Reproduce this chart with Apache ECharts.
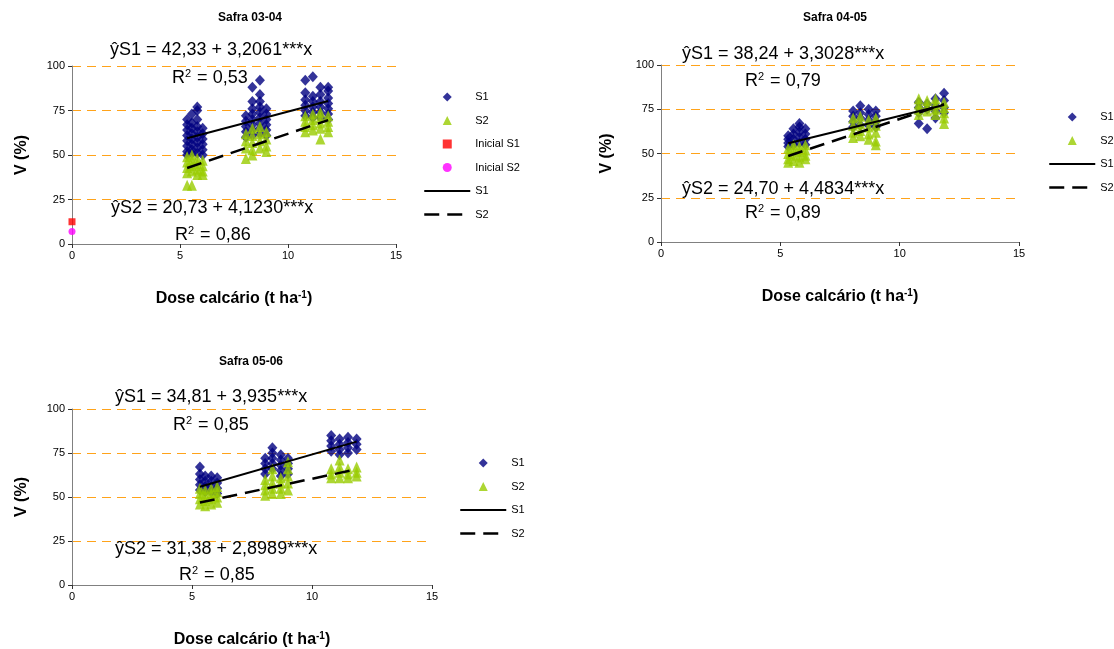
<!DOCTYPE html>
<html>
<head>
<meta charset="utf-8">
<script src="https://cdn.jsdelivr.net/npm/echarts@6/dist/echarts.min.js"></script>
<style>
  html, body { margin: 0; padding: 0; background: #fff; }
  #chart { width: 1114px; height: 649px; }
</style>
</head>
<body>
<div id="chart"></div>
<script>
// Limestone dose (t/ha) of each sampled column of points
const doses = [5.33, 5.55, 5.8, 6.05, 8.05, 8.35, 8.7, 9.0, 10.8, 11.15, 11.5, 11.86];

// Base saturation V (%) per dose column — Safra 03-04
const s1_0304 = [
  [70, 67, 64, 61, 58, 55, 52, 50],
  [73, 68, 65, 62, 59, 56, 53, 51],
  [77, 75, 70, 66, 63, 60, 57, 54, 51],
  [65, 62, 59, 56, 53, 50],
  [72, 69, 66, 63, 60],
  [88, 80, 76, 73, 70, 67, 64, 61],
  [92, 84, 80, 77, 74, 71, 68, 65, 62],
  [76, 73, 70, 67, 64, 61],
  [92, 85, 81, 78, 75, 72],
  [94, 83, 80, 77, 74, 71],
  [88, 84, 80, 77, 74, 71],
  [88, 86, 82, 79, 76, 73, 70]
];
const s2_0304 = [
  [49, 46, 43, 40, 33],
  [50, 47, 44, 41, 33],
  [48, 45, 42, 39],
  [47, 44, 41, 39],
  [62, 58, 54, 48],
  [65, 61, 57, 53, 50],
  [66, 62, 58, 54],
  [63, 59, 55, 52],
  [72, 69, 66, 63],
  [73, 70, 67, 64],
  [74, 71, 68, 65, 59],
  [72, 69, 66, 63]
];
// Initial V (%) before liming (dose 0): S1, S2
const inicial_0304 = [12.5, 7];

// Safra 04-05
const s1_0405 = [
  [60, 58, 56, 54],
  [64, 61, 58, 55],
  [67, 65, 62, 59, 56],
  [64, 61, 58, 55],
  [74, 71, 68, 65],
  [77, 73, 70, 66],
  [75, 72, 69, 66],
  [74, 71, 68, 65],
  [79, 76, 73, 67],
  [78, 75, 64],
  [81, 77, 74, 70],
  [84, 80, 76, 73]
];
const s2_0405 = [
  [53, 50, 47, 45],
  [55, 52, 49, 46],
  [54, 51, 48, 45],
  [55, 52, 49, 47],
  [70, 66, 62, 59],
  [71, 67, 63, 60],
  [69, 65, 61, 58],
  [70, 66, 62, 57, 55],
  [81, 78, 75, 72],
  [80, 77, 74],
  [81, 78, 75, 72],
  [79, 76, 73, 70, 67]
];

// Safra 05-06
const s1_0506 = [
  [67, 63, 60, 57, 54],
  [62, 59, 56, 53],
  [62, 59, 56, 53],
  [61, 58, 55, 52],
  [72, 69, 66, 63],
  [78, 75, 72, 69, 66],
  [74, 71, 68, 65, 62],
  [72, 69, 66, 63],
  [85, 82, 79, 76],
  [83, 80, 77, 74],
  [84, 81, 78, 75],
  [83, 80, 77]
];
const s2_0506 = [
  [55, 52, 49, 46],
  [54, 51, 48, 45],
  [55, 52, 49, 46],
  [56, 53, 50, 47],
  [60, 57, 54, 51],
  [66, 62, 58, 55, 52],
  [61, 58, 55, 52],
  [70, 66, 62, 58, 54],
  [66, 63, 61],
  [71, 67, 64, 61],
  [66, 63, 61],
  [67, 64, 62]
];

// Fitted regressions: [intercept, slope] and R²  (S1, S2)
const fitS1_0304 = ['42,33', '3,2061'];
const fitS2_0304 = ['20,73', '4,1230'];
const r2_0304 = ['0,53', '0,86'];
const fitS1_0405 = ['38,24', '3,3028'];
const fitS2_0405 = ['24,70', '4,4834'];
const r2_0405 = ['0,79', '0,89'];
const fitS1_0506 = ['34,81', '3,935'];
const fitS2_0506 = ['31,38', '2,8989'];
const r2_0506 = ['0,85', '0,85'];

const titles = ['Safra 03-04', 'Safra 04-05', 'Safra 05-06'];
const xTicks = [0, 5, 10, 15];
const yTicks = [0, 25, 50, 75, 100];

const FONT = '"Liberation Sans", Arial, Helvetica, sans-serif';
const NAVY = '#000080';
const LIME = '#99CC00';
const ORANGE = '#FFA31A';

// Legend marker shapes as paths so they keep a square aspect inside wide legend slots
const ICON = {
  diamond: 'path://M0,-1L1,0L0,1L-1,0Z',
  triangle: 'path://M0,-1L1,1L-1,1Z',
  square: 'path://M0,0L1,0L1,1L0,1Z',
  circle: 'path://M1,0A1,1,0,1,1,-1,0A1,1,0,1,1,1,0Z'
};
const HIDDEN = { color: 'rgba(0,0,0,0)', borderColor: 'rgba(0,0,0,0)', borderWidth: 0 };

const num = s => parseFloat(s.replace(',', '.'));
const toPairs = cols => cols.flatMap((vals, i) => vals.map(v => [doses[i], v]));
const doseMin = Math.min(...doses);
const doseMax = Math.max(...doses);
const fitLine = c => [doseMin, doseMax].map(x => [x, num(c[0]) + num(c[1]) * x]);

const panels = [
  { grid: { left: 72, top: 66, width: 324, height: 178 },
    s1: s1_0304, s2: s2_0304, f1: fitS1_0304, f2: fitS2_0304, r2: r2_0304,
    inicial: inicial_0304, title: titles[0], titlePos: [250, 18],
    legendPos: [423, 91], yNameGap: 42,
    eqPos: [[110, 50], [172, 78], [111, 208], [175, 235]] },
  { grid: { left: 661, top: 65, width: 358, height: 177 },
    s1: s1_0405, s2: s2_0405, f1: fitS1_0405, f2: fitS2_0405, r2: r2_0405,
    inicial: null, title: titles[1], titlePos: [835, 18],
    legendPos: [1048, 111], yNameGap: 46,
    eqPos: [[682, 54], [745, 81], [682, 189], [745, 213]] },
  { grid: { left: 72, top: 409, width: 360, height: 176 },
    s1: s1_0506, s2: s2_0506, f1: fitS1_0506, f2: fitS2_0506, r2: r2_0506,
    inicial: null, title: titles[2], titlePos: [251, 362],
    legendPos: [459, 457], yNameGap: 42,
    eqPos: [[115, 397], [173, 425], [115, 549], [179, 575]] }
];

const grid = [], xAxis = [], yAxis = [], series = [], legend = [], graphic = [];

panels.forEach((p, i) => {
  grid.push(Object.assign({ containLabel: false }, p.grid));

  xAxis.push({
    type: 'value', gridIndex: i, min: xTicks[0], max: xTicks[xTicks.length - 1], interval: 5,
    name: 'Dose calcário (t ha{sup|-1})', nameLocation: 'middle', nameGap: 46,
    nameTextStyle: { fontFamily: FONT, fontSize: 16, fontWeight: 'bold', color: '#000',
      rich: { sup: { fontFamily: FONT, fontSize: 10, fontWeight: 'bold', color: '#000',
        verticalAlign: 'top', padding: [0, 0, 8, 0] } } },
    axisLine: { show: true, onZero: false, lineStyle: { color: '#808080', width: 1 } },
    axisTick: { show: true, length: 4, lineStyle: { color: '#333' } },
    axisLabel: { fontFamily: FONT, fontSize: 11, color: '#000', margin: 6 },
    splitLine: { show: false }
  });

  yAxis.push({
    type: 'value', gridIndex: i, min: yTicks[0], max: yTicks[yTicks.length - 1], interval: 25,
    name: 'V (%)', nameLocation: 'middle', nameGap: p.yNameGap, nameRotate: 90,
    nameTextStyle: { fontFamily: FONT, fontSize: 16, fontWeight: 'bold', color: '#000' },
    axisLine: { show: true, onZero: false, lineStyle: { color: '#808080', width: 1 } },
    axisTick: { show: true, length: 4, lineStyle: { color: '#333' } },
    axisLabel: { fontFamily: FONT, fontSize: 11, color: '#000', margin: 7 },
    splitLine: { show: true, lineStyle: { color: ORANGE, width: 1, type: [9, 6] } }
  });

  const legendData = [
    { name: 'S1', icon: ICON.diamond, itemStyle: { color: NAVY } },
    { name: 'S2', icon: ICON.triangle, itemStyle: { color: LIME } }
  ];
  series.push({
    name: 'S1', type: 'scatter', xAxisIndex: i, yAxisIndex: i, data: toPairs(p.s1),
    symbol: 'diamond', symbolSize: [10, 11], itemStyle: { color: NAVY }, z: 2, clip: false
  });
  series.push({
    name: 'S2', type: 'scatter', xAxisIndex: i, yAxisIndex: i, data: toPairs(p.s2),
    symbol: 'triangle', symbolSize: [10, 11], itemStyle: { color: LIME }, z: 3, clip: false
  });
  if (p.inicial) {
    series.push({
      name: 'Inicial S1', type: 'scatter', xAxisIndex: i, yAxisIndex: i, data: [[0, p.inicial[0]]],
      symbol: 'rect', symbolSize: 7, itemStyle: { color: '#FF0000' }, z: 4, clip: false
    });
    series.push({
      name: 'Inicial S2', type: 'scatter', xAxisIndex: i, yAxisIndex: i, data: [[0, p.inicial[1]]],
      symbol: 'circle', symbolSize: 7, itemStyle: { color: '#FF00FF' }, z: 4, clip: false
    });
    legendData.push(
      { name: 'Inicial S1', icon: ICON.square, itemStyle: { color: '#FF0000' } },
      { name: 'Inicial S2', icon: ICON.circle, itemStyle: { color: '#FF00FF' } }
    );
  }
  series.push({
    name: 'S1 ', type: 'line', xAxisIndex: i, yAxisIndex: i, data: fitLine(p.f1),
    symbol: 'none', showSymbol: false, lineStyle: { color: '#000', width: 2, type: 'solid' },
    itemStyle: { color: '#000' }, z: 5, animation: false
  });
  series.push({
    name: 'S2 ', type: 'line', xAxisIndex: i, yAxisIndex: i, data: fitLine(p.f2),
    symbol: 'none', showSymbol: false, lineStyle: { color: '#000', width: 2.5, type: [15, 8] },
    itemStyle: { color: '#000' }, z: 5, animation: false
  });
  legendData.push(
    { name: 'S1 ', itemStyle: HIDDEN, lineStyle: { color: '#000', width: 2, type: 'solid' } },
    { name: 'S2 ', itemStyle: HIDDEN, lineStyle: { color: '#000', width: 2.5, type: [15, 8] } }
  );

  legend.push({
    orient: 'vertical', left: p.legendPos[0], top: p.legendPos[1], padding: 0,
    itemWidth: 46, itemHeight: 9, itemGap: 11.5, selectedMode: false, symbolKeepAspect: true,
    data: legendData, formatter: n => n.trim(),
    textStyle: { fontFamily: FONT, fontSize: 11, color: '#000', lineHeight: 12 }
  });

  // Panel title
  graphic.push({
    type: 'text', x: p.titlePos[0], y: p.titlePos[1], z: 10,
    style: { text: p.title, fontFamily: FONT, fontSize: 12, fontWeight: 'bold', fill: '#000',
      align: 'center', verticalAlign: 'middle' }
  });

  // Regression equations and R²
  const eqTexts = [
    'ŷS1 = ' + p.f1[0] + ' + ' + p.f1[1] + '***x',
    'R{sup|2} = ' + p.r2[0],
    'ŷS2 = ' + p.f2[0] + ' + ' + p.f2[1] + '***x',
    'R{sup|2} = ' + p.r2[1]
  ];
  eqTexts.forEach((t, k) => {
    graphic.push({
      type: 'text', x: p.eqPos[k][0], y: p.eqPos[k][1], z: 10,
      style: { text: t, fontFamily: FONT, fontSize: 18, fill: '#000',
        align: 'left', verticalAlign: 'middle',
        rich: { sup: { fontFamily: FONT, fontSize: 11, fill: '#000', verticalAlign: 'top', padding: [0, 1, 9, 0] } } }
    });
  });
});

const chart = echarts.init(document.getElementById('chart'), null, { renderer: 'canvas' });
chart.setOption({
  animation: false,
  backgroundColor: '#fff',
  grid, xAxis, yAxis, series, legend, graphic
});
</script>
</body>
</html>
